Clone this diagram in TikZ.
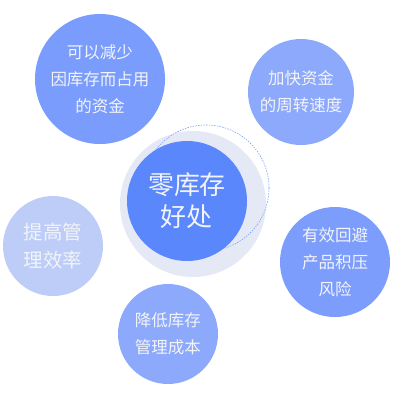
\documentclass[tikz,border=0pt]{standalone}
\usepackage{fontspec}
\setmainfont{Noto Sans CJK SC}
\definecolor{cmain}{HTML}{5A87FC}
\definecolor{cring}{HTML}{E5E9F5}
\definecolor{ctl}{HTML}{7A9CFC}
\definecolor{ctr}{HTML}{8DA9FC}
\definecolor{cl}{HTML}{BECDF8}
\definecolor{cr}{HTML}{7C9DFC}
\definecolor{cb}{HTML}{8CA9FB}
\definecolor{ctext}{HTML}{F2F4FA}
\tikzset{
  bubble/.style={circle, inner sep=0pt, text=ctext, align=center},
  small/.style={font=\fontsize{16.5}{27}\selectfont},
}
\begin{document}
\begin{tikzpicture}[x=1pt,y=-1pt]
\useasboundingbox (0,0) rectangle (400,400);
% central ring and circle
\node[circle, fill=cring, minimum size=146pt, inner sep=0pt] (ring) at (193,204) {};
\draw[cmain!80, dash pattern=on 1.5pt off 1.2pt, line width=0.6pt]
  (206,188) circle[radius=63];
\node[bubble, fill=cmain, minimum size=120pt, font=\fontsize{26}{32}\selectfont] (main) at (187,201) {零库存\\好处};
% satellites
\node[bubble, small, fill=ctl, minimum size=130pt] (tl) at (100,79) {可以减少\\因库存而占用\\的资金};
\node[bubble, small, fill=ctr, minimum size=106pt] (tr) at (301,92) {加快资金\\的周转速度};
\node[bubble, fill=cl, minimum size=100pt, font=\fontsize{19.5}{28}\selectfont] (l) at (53,246) {提高管\\理效率};
\node[bubble, small, fill=cr, minimum size=110pt] (r) at (335,262) {有效回避\\产品积压\\风险};
\node[bubble, small, fill=cb, minimum size=100pt] (b) at (168,334) {降低库存\\管理成本};
\end{tikzpicture}
\end{document}
